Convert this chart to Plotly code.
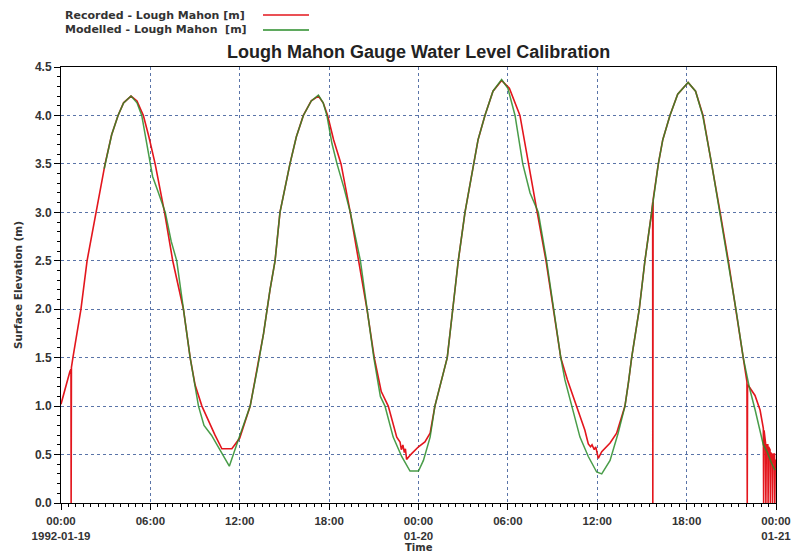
import plotly.graph_objects as go

# Hours since 1992-01-19 00:00 and water levels (m) for the recorded gauge series
recorded_hours = [
    0.0, 0.3, 0.6, 0.67, 0.68, 0.70, 0.8, 1.05, 1.34, 1.75, 2.35, 2.96, 3.4, 3.83, 4.2, 4.7,
    5.1, 5.53, 5.9, 6.32, 6.95, 7.5, 8.22, 8.67, 9.0, 9.46, 10.34, 10.8, 11.47, 12.0,
    12.7, 13.2, 13.6, 14.03, 14.37, 14.7, 15.37, 15.8, 16.27, 16.8, 17.28, 17.6, 17.9,
    18.3, 18.8, 19.42, 19.98, 20.54, 21.03, 21.5, 21.97, 22.54, 22.76, 22.85, 22.95,
    23.05, 23.12, 23.2, 23.54, 24.0, 24.43, 24.78, 25.1, 25.44, 25.93, 26.3, 26.67,
    27.12, 27.68, 28.0, 28.46, 29.0, 29.58, 30.1, 30.81, 31.37, 31.97, 32.56, 33.05,
    33.55, 34.0, 34.6, 35.17, 35.4, 35.55, 35.65, 35.8, 35.9, 36.07, 36.3, 36.86, 37.3,
    37.86, 38.1, 38.31, 38.82, 39.2, 39.65, 39.72, 39.73, 39.75, 40.1, 40.4, 40.88,
    41.4, 42.1, 42.6, 43.1, 43.7, 44.25, 44.8, 45.31, 45.8, 46.05, 46.07, 46.09, 46.2,
    46.59, 46.93, 47.15, 47.17, 47.2, 47.3, 47.32, 47.35, 47.45, 47.47, 47.5, 47.6,
    47.62, 47.65, 47.75, 47.77, 47.8, 47.9, 47.92, 47.95,
]
recorded_level = [
    1.02, 1.2, 1.36, 1.38, 0.0, 1.40, 1.5, 1.75, 2.0, 2.5, 3.0, 3.5, 3.8, 4.0, 4.13, 4.2,
    4.15, 4.0, 3.78, 3.5, 3.0, 2.5, 2.0, 1.5, 1.22, 1.0, 0.7, 0.56, 0.56, 0.67,
    1.0, 1.4, 1.75, 2.2, 2.5, 3.0, 3.5, 3.78, 4.0, 4.15, 4.2, 4.13, 4.0,
    3.75, 3.5, 3.0, 2.5, 2.0, 1.5, 1.15, 1.0, 0.68, 0.63, 0.55, 0.6,
    0.52, 0.56, 0.45, 0.51, 0.58, 0.63, 0.72, 1.0, 1.2, 1.5, 2.0, 2.5,
    3.0, 3.5, 3.75, 4.0, 4.25, 4.36, 4.28, 4.0, 3.5, 3.0, 2.5, 2.0,
    1.5, 1.27, 1.0, 0.75, 0.61, 0.58, 0.6, 0.55, 0.58, 0.46, 0.53, 0.62, 0.72,
    1.0, 1.25, 1.5, 2.0, 2.5, 3.0, 3.1, 0.0, 3.13, 3.5, 3.75, 4.0,
    4.22, 4.34, 4.25, 4.0, 3.5, 3.0, 2.5, 2.0, 1.5, 1.25, 0.0, 1.22, 1.2,
    1.11, 0.96, 0.77, 0.0, 0.75, 0.62, 0.0, 0.6, 0.6, 0.0, 0.58, 0.55,
    0.0, 0.52, 0.5, 0.0, 0.5, 0.51, 0.0, 0.45,
]

# Model output at the same gauge
modelled_hours = [
    2.9, 3.4, 3.83, 4.2, 4.7, 5.1, 5.42, 5.75, 6.0, 6.15, 6.5, 7.0, 7.4, 7.77, 8.22, 8.67,
    9.23, 9.6, 10.1, 10.68, 11.3, 11.9, 12.7, 13.2, 13.6, 14.03, 14.37, 14.7, 15.37,
    15.8, 16.27, 16.8, 17.28, 17.6, 17.85, 18.19, 18.53, 19.0, 19.42, 20.1, 20.54, 21.0,
    21.44, 21.75, 22.3, 22.87, 23.43, 24.0, 24.33, 24.78, 25.1, 25.44, 25.93, 26.3,
    26.67, 27.12, 27.68, 28.0, 28.46, 29.0, 29.58, 30.0, 30.48, 31.0, 31.49, 32.04,
    32.6, 33.05, 33.55, 33.83, 34.4, 34.84, 35.4, 35.96, 36.3, 36.86, 37.4, 37.86, 38.1,
    38.31, 38.82, 39.2, 39.65, 40.1, 40.4, 40.88, 41.4, 42.1, 42.6, 43.08, 43.68, 44.24,
    44.8, 45.31, 45.8, 46.2, 46.6, 46.93, 47.15, 47.4, 47.7, 47.93,
]
modelled_level = [
    3.45, 3.8, 4.0, 4.13, 4.2, 4.13, 4.0, 3.72, 3.5, 3.37, 3.22, 3.0, 2.7, 2.5, 2.0, 1.5,
    1.0, 0.8, 0.7, 0.55, 0.38, 0.65, 1.0, 1.4, 1.75, 2.2, 2.5, 3.0, 3.5,
    3.78, 4.0, 4.15, 4.21, 4.13, 4.0, 3.71, 3.5, 3.25, 3.0, 2.5, 2.0, 1.5,
    1.1, 1.0, 0.68, 0.48, 0.33, 0.33, 0.44, 0.68, 1.0, 1.2, 1.5, 2.0,
    2.5, 3.0, 3.5, 3.75, 4.0, 4.25, 4.37, 4.28, 4.0, 3.5, 3.2, 3.0,
    2.5, 2.0, 1.5, 1.27, 0.93, 0.68, 0.48, 0.32, 0.3, 0.44, 0.72, 1.0, 1.25,
    1.5, 2.0, 2.5, 3.0, 3.5, 3.75, 4.0, 4.22, 4.34, 4.25, 4.0, 3.5, 3.0,
    2.5, 2.0, 1.5, 1.2, 0.96, 0.75, 0.6, 0.53, 0.41, 0.34,
]

tick_hours = [0, 6, 12, 18, 24, 30, 36, 42, 48]
tick_labels = ["00:00<br>1992-01-19", "06:00", "12:00", "18:00", "00:00<br>01-20",
               "06:00", "12:00", "18:00", "00:00<br>01-21"]

series_names = ["Recorded - Lough Mahon [m]", "Modelled - Lough Mahon  [m]"]
title_text = "Lough Mahon Gauge Water Level Calibration"

RED = "#e3161d"
GREEN = "#2a8c2a"
GRID = "#5a74a8"
FONT = "Liberation Sans, Arial, sans-serif"
WIDE_FONT = "DejaVu Sans, Verdana, sans-serif"

fig = go.Figure()
fig.add_trace(go.Scatter(x=recorded_hours, y=recorded_level, mode="lines",
                         name=series_names[0], line=dict(color=RED, width=1.6),
                         showlegend=False))
fig.add_trace(go.Scatter(x=modelled_hours, y=modelled_level, mode="lines",
                         name=series_names[1], line=dict(color=GREEN, width=1.5),
                         opacity=0.85, showlegend=False))

axis_common = dict(showline=True, linecolor="black", linewidth=1, mirror=True,
                   ticks="outside", ticklen=6, tickcolor="black",
                   showgrid=True, gridcolor=GRID, griddash="dot", gridwidth=1,
                   zeroline=False, automargin=False)

fig.update_xaxes(range=[0, 48], tickmode="array", tickvals=tick_hours, ticktext=tick_labels,
                 ticklabelstandoff=1,
                 tickfont=dict(family=FONT, size=11.5, color="#333333", weight="bold"),
                 minor=dict(tick0=0, dtick=0.5, ticks="outside", ticklen=3,
                            tickcolor="black", showgrid=False),
                 **axis_common)
fig.update_yaxes(range=[0, 4.5], tickmode="linear", tick0=0, dtick=0.5, tickformat=".1f",
                 tickfont=dict(family=FONT, size=12, color="#333333", weight="bold"),
                 minor=dict(tick0=0, dtick=0.1, ticks="outside", ticklen=3,
                            tickcolor="black", showgrid=False),
                 **axis_common)

annotations = [
    dict(text=title_text, xref="paper", yref="paper", x=0.5, y=1.0, yshift=15,
         showarrow=False, xanchor="center", yanchor="middle",
         font=dict(family=FONT, size=18, color="#222222", weight="bold")),
    dict(text="Surface Elevation (m)", xref="paper", yref="paper", x=-0.06, y=0.5,
         textangle=-90, showarrow=False, xanchor="center", yanchor="middle",
         font=dict(family=WIDE_FONT, size=10.5, color="#333333", weight="bold")),
    dict(text="Time", xref="paper", yref="paper", x=0.5, y=0, yshift=-44,
         showarrow=False, xanchor="center", yanchor="middle",
         font=dict(family=WIDE_FONT, size=10, color="#333333", weight="bold")),
]
# Legend rows: label on the left, line sample on the right
shapes = []
for i, (name, color) in enumerate(zip(series_names, [RED, GREEN])):
    ypix = 15 + 15 * i
    annotations.append(dict(text=name, xref="paper", yref="paper", x=(63 - 61) / 715,
                            y=1 + (67 - ypix) / 436, showarrow=False,
                            xanchor="left", yanchor="middle",
                            font=dict(family=WIDE_FONT, size=11, color="#333333",
                                      weight="bold")))
    shapes.append(dict(type="line", xref="paper", yref="paper",
                       x0=(263 - 61) / 715, x1=(309 - 61) / 715,
                       y0=1 + (67 - ypix) / 436, y1=1 + (67 - ypix) / 436,
                       line=dict(color=color, width=1.5)))

fig.update_layout(width=792, height=552, margin=dict(l=61, r=16, t=67, b=49),
                  paper_bgcolor="white", plot_bgcolor="white",
                  annotations=annotations, shapes=shapes, showlegend=False)

fig.write_html("out.html", config={"displayModeBar": False})
